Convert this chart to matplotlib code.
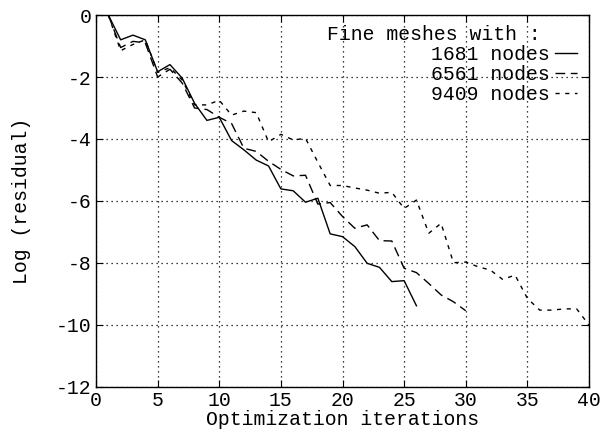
import matplotlib
matplotlib.use("Agg")
import matplotlib.pyplot as plt
import numpy as np

iters_1681 = list(range(1, 27))
res_1681 = [0, -0.8, -0.65, -0.8, -1.83, -1.6, -2.04, -2.85, -3.4, -3.3,
            -4.05, -4.35, -4.68, -4.87, -5.61, -5.67, -6.04, -5.91, -7.06, -7.15,
            -7.47, -8.01, -8.14, -8.6, -8.57, -9.38]

iters_6561 = list(range(1, 31))
res_6561 = [0, -1.05, -0.85, -0.9, -2.0, -1.75, -2.2, -3.0, -3.05, -3.3,
            -3.5, -4.3, -4.4, -4.72, -4.98, -5.19, -5.17, -6.1, -6.05, -6.5,
            -6.88, -6.77, -7.28, -7.29, -8.17, -8.31, -8.66, -9.03, -9.25, -9.54]

iters_9409 = list(range(1, 41))
res_9409 = [0, -1.15, -0.95, -0.8, -1.85, -1.7, -2.1, -2.9, -2.9, -2.75,
            -3.23, -3.1, -3.15, -4.09, -3.85, -4.03, -3.98, -4.75, -5.5, -5.5,
            -5.58, -5.65, -5.75, -5.72, -6.24, -5.97, -7.04, -6.72, -7.99, -7.97,
            -8.12, -8.23, -8.53, -8.39, -9.14, -9.52, -9.52, -9.48, -9.48, -10.0]

labels = ["1681 nodes", "6561 nodes", "9409 nodes"]
legend_title = "Fine meshes with :"
x_ticks = [0, 5, 10, 15, 20, 25, 30, 35, 40]
y_ticks = [0, -2, -4, -6, -8, -10, -12]

plt.rcParams['font.family'] = ['Liberation Mono', 'DejaVu Sans Mono']
FS = 14.2

fig = plt.figure(figsize=(6.02, 4.33), dpi=100)
ax = fig.add_axes([96/602, 1-387/433, 493/602, 372/433])

ax.plot(iters_1681, res_1681, color='black', lw=1.0, label=labels[0])
ax.plot(iters_6561, res_6561, color='black', lw=1.0, dashes=(7, 4), label=labels[1])
ax.plot(iters_9409, res_9409, color='black', lw=1.0, dashes=(3, 4), label=labels[2])

ax.set_xlim(0, 40)
ax.set_ylim(-12, 0)
ax.set_xticks(x_ticks)
ax.set_yticks(y_ticks)
ax.set_xticklabels([str(v) for v in x_ticks], fontsize=FS)
ax.set_yticklabels([str(v) for v in y_ticks], fontsize=FS)
ax.tick_params(direction='in', length=5, width=0.8, top=True, right=True, pad=3)
ax.grid(True, color='black', linestyle=(0, (1, 3)), linewidth=0.9)
for s in ax.spines.values():
    s.set_linewidth(1.0)

ax.set_xlabel("Optimization iterations", fontsize=FS, labelpad=0)
ax.set_ylabel("Log (residual)", fontsize=FS, labelpad=18)

leg = ax.legend(loc='upper right', bbox_to_anchor=(0.975, 0.972), frameon=False,
                title=legend_title + "   ", title_fontsize=FS, fontsize=FS,
                markerfirst=False, alignment='right', handlelength=1.1,
                handletextpad=0.28, labelspacing=0.05, borderpad=0.0,
                borderaxespad=0.0)

fig.savefig("out.png", dpi=100)
